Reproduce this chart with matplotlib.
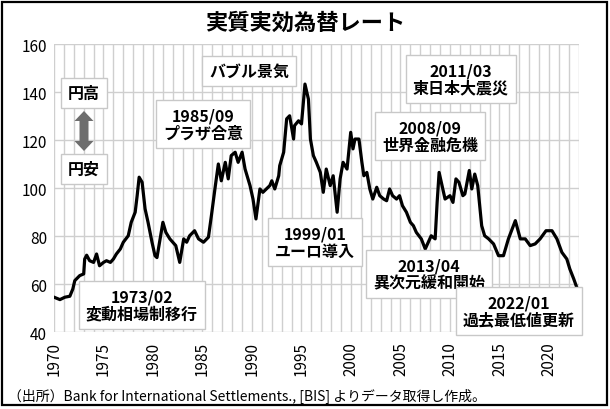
import matplotlib.pyplot as plt
from matplotlib.patches import Rectangle, FancyArrow
from matplotlib.transforms import IdentityTransform, offset_copy

plt.rcParams['font.family'] = ['Noto Sans CJK JP', 'DejaVu Sans']

years = [1970.0, 1970.6, 1971.1, 1971.6, 1971.9, 1972.1, 1972.6, 1973.0, 1973.1, 1973.3,
         1973.6, 1974.0, 1974.3, 1974.6, 1975.0, 1975.3, 1975.7, 1976.0, 1976.3, 1976.7,
         1977.0, 1977.5, 1977.8, 1978.2, 1978.4, 1978.6, 1978.9, 1979.2, 1979.5, 1979.9,
         1980.2, 1980.4, 1981.0, 1981.3, 1981.7, 1982.0, 1982.3, 1982.7, 1983.1, 1983.4,
         1983.7, 1984.2, 1984.6, 1985.1, 1985.6, 1985.9, 1986.3, 1986.6, 1986.9, 1987.3,
         1987.6, 1987.9, 1988.3, 1988.6, 1989.0, 1989.3, 1989.8, 1990.1, 1990.4, 1990.8,
         1991.1, 1991.8, 1992.0, 1992.3, 1992.7, 1992.8, 1993.2, 1993.5, 1993.8, 1994.2,
         1994.3, 1994.7, 1995.0, 1995.35, 1995.45, 1995.7, 1995.9, 1996.2, 1996.5, 1996.9,
         1997.2, 1997.5, 1997.9, 1998.2, 1998.6, 1998.9, 1999.2, 1999.6, 1999.97, 2000.2,
         2000.4, 2000.8, 2001.1, 2001.3, 2001.6, 2001.9, 2002.2, 2002.6, 2002.9, 2003.3,
         2003.6, 2003.9, 2004.2, 2004.6, 2004.9, 2005.2, 2005.6, 2006.0, 2006.3, 2006.6,
         2007.1, 2007.5, 2007.8, 2008.1, 2008.5, 2008.7, 2008.9, 2009.2, 2009.5, 2010.0,
         2010.3, 2010.6, 2010.9, 2011.3, 2011.5, 2011.95, 2012.2, 2012.5, 2012.8, 2013.2,
         2013.5, 2013.9, 2014.4, 2014.9, 2015.4, 2015.9, 2016.6, 2017.1, 2017.6, 2018.1,
         2018.6, 2019.1, 2019.7, 2020.3, 2020.8, 2021.3, 2021.8, 2022.1, 2022.5, 2022.9]
reer = [54.5, 53.5, 54.5, 54.9, 57.9, 61.4, 63.5, 64.2, 70.4, 72.0,
        69.7, 69.0, 72.5, 67.6, 69.0, 69.7, 69.0, 70.4, 72.5, 74.6,
        77.4, 80.1, 85.7, 89.9, 96.8, 104.5, 102.4, 91.3, 85.7, 77.4,
        71.8, 71.0, 85.7, 81.5, 78.8, 77.4, 76.0, 69.0, 78.8, 77.4,
        80.1, 82.2, 78.8, 77.4, 79.5, 88.5, 101.0, 110.0, 103.0, 110.7,
        103.8, 113.5, 114.9, 110.7, 114.9, 107.9, 101.0, 95.4, 87.1, 99.6,
        98.2, 101.0, 103.0, 99.6, 105.1, 109.3, 114.9, 128.8, 130.1, 120.4,
        126.0, 128.0, 126.7, 143.3, 141.5, 137.0, 120.4, 113.5, 110.7, 106.5,
        98.2, 107.9, 101.0, 105.1, 89.9, 103.8, 110.7, 107.9, 123.2, 116.3,
        120.4, 120.4, 110.7, 105.1, 106.5, 99.6, 95.4, 100.3, 96.8, 95.4,
        94.7, 99.6, 96.8, 95.4, 96.8, 92.6, 89.9, 85.7, 84.3, 81.5,
        78.8, 74.6, 77.4, 80.1, 78.8, 94.0, 106.5, 101.0, 95.4, 96.8,
        94.0, 103.8, 102.4, 96.8, 97.5, 107.3, 99.6, 105.8, 101.0, 84.3,
        80.1, 78.8, 76.7, 71.8, 71.8, 78.8, 86.4, 78.8, 78.8, 76.0,
        76.7, 78.8, 82.2, 82.2, 78.8, 73.2, 70.4, 66.3, 62.1, 57.5]

y_ticks = [40, 60, 80, 100, 120, 140, 160]
x_ticks = list(range(1970, 2021, 5))
x_labels = [str(t) for t in x_ticks]

# annotation texts and their centres in pixels
notes = [
    ('円高', 84, 94),
    ('円安', 84, 170),
    ('バブル景気', 249, 72),
    ('1985/09\nプラザ合意', 203, 125),
    ('1973/02\n変動相場制移行', 142, 306),
    ('1999/01\nユーロ導入', 315, 243),
    ('2008/09\n世界金融危機', 430, 137),
    ('2011/03\n東日本大震災', 461, 80),
    ('2013/04\n異次元緩和開始', 429, 275),
    ('2022/01\n過去最低値更新', 519, 312),
]

W, H = 610, 410


def px(x, y):
    return x / W, 1 - y / H


fig = plt.figure(figsize=(6.1, 4.1), dpi=100)
ax = fig.add_axes([54 / W, 1 - 333 / H, (578.7 - 54) / W, (333 - 45) / H])

ax.plot(years, reer, color='black', lw=2.3, solid_joinstyle='round', zorder=3)

ax.set_xlim(1970, 2023)
ax.set_ylim(40, 160)
ax.set_yticks(y_ticks)
ax.set_xticks(range(1970, 2024), minor=True)
ax.set_xticks(x_ticks)
ax.set_xticklabels([])
ax.grid(True, which='both', axis='x', color='#cfcfcf', lw=1)
ax.grid(True, which='major', axis='y', color='#cfcfcf', lw=1)
ax.set_axisbelow(True)
for s in ax.spines.values():
    s.set_visible(False)
ax.tick_params(axis='both', which='both', length=0, labelsize=11)
ax.tick_params(axis='y', pad=5)

# vertical year labels below the axis
lab_tr = offset_copy(ax.get_xaxis_transform(), fig=fig, y=-9, units='dots')
for t, s in zip(x_ticks, x_labels):
    ax.text(t, 0, s, transform=lab_tr, rotation=90, ha='center', va='top',
            fontsize=11, clip_on=False)

fig.text(*px(305, 23), '実質実効為替レート', ha='center', va='center',
         fontsize=16, fontweight='bold')

for txt, x, y in notes:
    fig.text(*px(x, y), txt, ha='center', va='center', fontsize=11.5,
             fontweight='bold', linespacing=1.1,
             bbox=dict(boxstyle='square,pad=0.45', fc='white', ec='#c8c8c8', lw=1),
             zorder=5)

# double arrow between 円高 and 円安 (drawn in pixel space, y up)
mid = H - 132
for dy in (20, -20):
    fig.patches.append(FancyArrow(84, mid, 0, dy, width=9, head_width=19,
                                  head_length=10, length_includes_head=True,
                                  transform=IdentityTransform(),
                                  color='#6e6e6e', lw=0))

fig.text(*px(8, 396), '（出所）Bank for International Settlements., [BIS] よりデータ取得し作成。',
         ha='left', va='center', fontsize=10)

fig.patches.append(Rectangle((2 / W, 1 - 406 / H), 605 / W, 403 / H,
                             transform=fig.transFigure, fill=False,
                             ec='black', lw=1.6))

fig.savefig('out.png', dpi=100)
